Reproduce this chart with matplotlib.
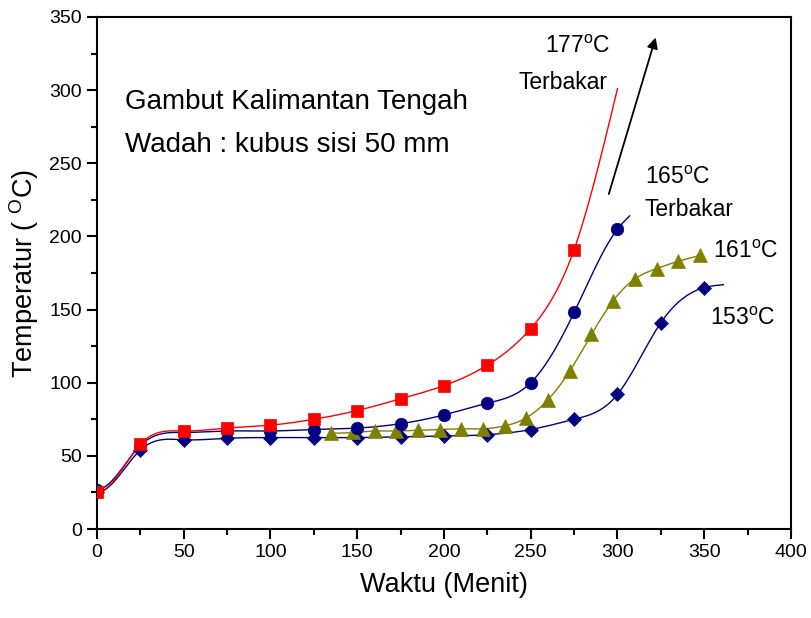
import numpy as np
import matplotlib
matplotlib.use('Agg')
import matplotlib.pyplot as plt
from matplotlib.ticker import MultipleLocator

plt.rcParams['font.family'] = ['Liberation Sans', 'DejaVu Sans']
plt.rcParams['mathtext.default'] = 'regular'

# data (time in minutes, temperature in deg C)
x_177 = [0, 25, 50, 75, 100, 125, 150, 175, 200, 225, 250, 275]
y_177 = [25, 58, 67, 69, 71, 75, 81, 89, 98, 112, 137, 191]
end_177 = (300, 301)

x_165 = [0, 25, 50, 75, 100, 125, 150, 175, 200, 225, 250, 275, 300]
y_165 = [27, 57, 66, 67, 67, 68, 69, 72, 78, 86, 100, 148, 205]
end_165 = (307, 214)

x_161 = [135, 147.5, 160, 172.5, 185, 197.5, 210, 222.5, 235, 247.5,
         260, 272.5, 285, 297.5, 310, 322.5, 335, 347.5]
y_161 = [65.5, 66, 67, 67, 67.5, 68, 68.5, 68.5, 70.5, 76,
         88.5, 108, 133, 156, 171, 178, 183, 187]

x_153 = [0, 25, 50, 75, 100, 125, 150, 175, 200, 225, 250, 275, 300, 325, 350]
y_153 = [25, 54, 61, 62, 62.5, 62.5, 62.5, 63, 63.5, 64.5, 68, 75, 92, 141, 165]
end_153 = (361, 167)


# cubic spline through the points, flat at the start, natural at the end
def smooth(x, y, n=400):
    x = np.asarray(x, float)
    y = np.asarray(y, float)
    m = len(x)
    h = np.diff(x)
    A = np.zeros((m, m))
    r = np.zeros(m)
    A[0, 0] = 2 * h[0]
    A[0, 1] = h[0]
    r[0] = 3 * (y[1] - y[0]) / h[0]
    for i in range(1, m - 1):
        A[i, i - 1] = h[i - 1]
        A[i, i] = 2 * (h[i - 1] + h[i])
        A[i, i + 1] = h[i]
        r[i] = 3 * ((y[i + 1] - y[i]) / h[i] - (y[i] - y[i - 1]) / h[i - 1])
    A[-1, -1] = 1
    c = np.linalg.solve(A, r)
    xs = np.linspace(x[0], x[-1], n)
    idx = np.clip(np.searchsorted(x, xs) - 1, 0, m - 2)
    b = (y[1:] - y[:-1]) / h - h * (2 * c[:-1] + c[1:]) / 3
    d = (c[1:] - c[:-1]) / (3 * h)
    t = xs - x[idx]
    ys = y[idx] + b[idx] * t + c[idx] * t ** 2 + d[idx] * t ** 3
    return xs, ys


red = '#ff0000'
navy = '#000080'
olive = '#808000'

fig = plt.figure(figsize=(8.11, 6.18), dpi=100)
ax = fig.add_axes([0.1196, 0.144, 0.8557, 0.8285])

series = [
    (x_153, y_153, end_153, navy, 'D', 6.8),
    (x_161, y_161, None, olive, '^', 9.5),
    (x_165, y_165, end_165, navy, 'o', 9),
    (x_177, y_177, end_177, red, 's', 8),
]
for xv, yv, tail, col, mk, ms in series:
    cx, cy = list(xv), list(yv)
    if tail is not None:
        cx.append(tail[0])
        cy.append(tail[1])
    xs, ys = smooth(cx, cy)
    ax.plot(xs, ys, color=col, lw=1.0, zorder=2)
    ax.plot(xv, yv, linestyle='none', marker=mk, ms=ms, color=col,
            markeredgecolor=col, markeredgewidth=0.5, zorder=3)

ax.set_xlim(0, 400)
ax.set_ylim(0, 350)
ax.xaxis.set_major_locator(MultipleLocator(50))
ax.xaxis.set_minor_locator(MultipleLocator(25))
ax.yaxis.set_major_locator(MultipleLocator(50))
ax.yaxis.set_minor_locator(MultipleLocator(25))
ax.tick_params(which='major', direction='out', length=7, width=1.5,
               labelsize=14, top=False, right=False, pad=4)
ax.tick_params(which='minor', direction='out', length=4, width=1.5,
               top=False, right=False)
for s in ax.spines.values():
    s.set_linewidth(1.5)

ax.set_xlabel('Waktu (Menit)', fontsize=19.5, labelpad=8)
ax.set_ylabel('Temperatur ( $^{O}$C)', fontsize=19.5, labelpad=6)

ax.text(16, 292, 'Gambut Kalimantan Tengah', fontsize=20, va='center')
ax.text(16, 262.5, 'Wadah : kubus sisi 50 mm', fontsize=20, va='center')

ax.text(296, 329.5, '177$^{o}$C', fontsize=16.5, ha='right', va='center')
ax.text(294, 305.5, 'Terbakar', fontsize=16.5, ha='right', va='center')
ax.text(315.8, 240.6, '165$^{o}$C', fontsize=16.5, ha='left', va='center')
ax.text(315.8, 218.7, 'Terbakar', fontsize=16.5, ha='left', va='center')
ax.text(355, 190, '161$^{o}$C', fontsize=16.5, ha='left', va='center')
ax.text(353.3, 144.2, '153$^{o}$C', fontsize=16.5, ha='left', va='center')

ax.annotate('', xy=(322, 336), xytext=(295, 229),
            arrowprops=dict(arrowstyle='-|>', color='black', lw=1.3,
                            mutation_scale=16, shrinkA=0, shrinkB=0))

fig.savefig('out.png', dpi=100)
